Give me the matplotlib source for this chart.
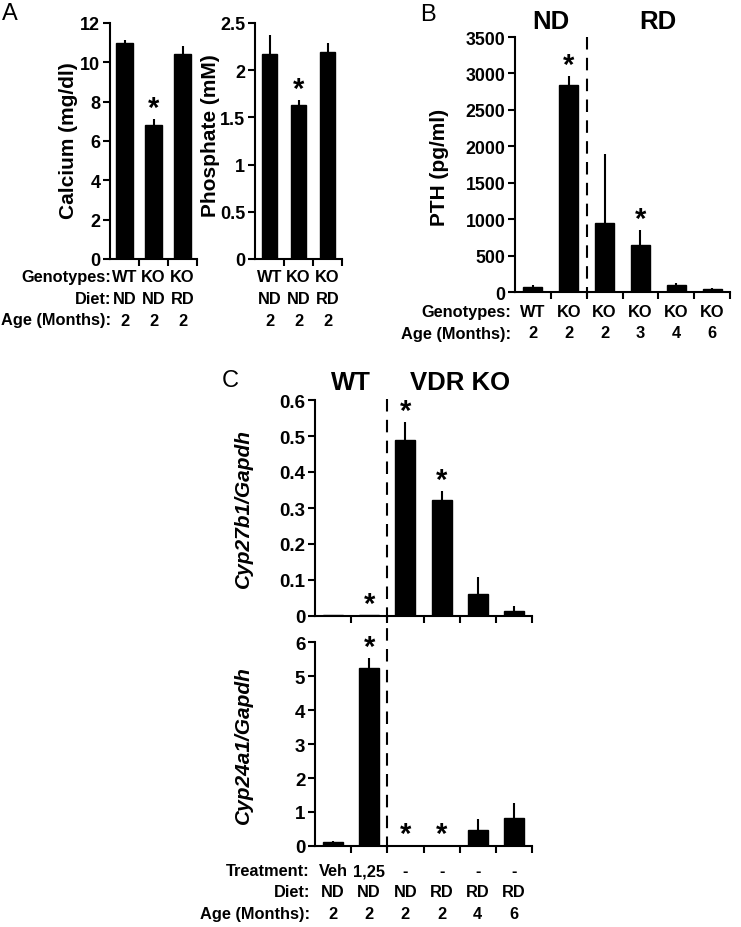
"""
Serum minerals, PTH and renal Cyp27b1 / Cyp24a1 expression (panels A-C)
"""

import matplotlib.pyplot as plt
import matplotlib.transforms as mtrans
from matplotlib.lines import Line2D

## Panel A data
a_genotypes = ["WT", "KO", "KO"]
a_diet = ["ND", "ND", "RD"]
a_age = ["2", "2", "2"]
calcium = [11.0, 6.8, 10.4]
calcium_err = [0.12, 0.3, 0.45]
calcium_sig = [False, True, False]
phosphate = [2.17, 1.63, 2.19]
phosphate_err = [0.2, 0.05, 0.1]
phosphate_sig = [False, True, False]

## Panel B data
b_genotypes = ["WT", "KO", "KO", "KO", "KO", "KO"]
b_age = ["2", "2", "2", "3", "4", "6"]
pth = [65, 2840, 950, 650, 90, 40]
pth_err = [30, 130, 940, 200, 30, 12]
pth_sig = [False, True, False, True, False, False]

## Panel C data
c_treatment = ["Veh", "1,25", "-", "-", "-", "-"]
c_diet = ["ND", "ND", "ND", "RD", "RD", "RD"]
c_age = ["2", "2", "2", "2", "4", "6"]
cyp27b1 = [0.003, 0.002, 0.49, 0.322, 0.06, 0.015]
cyp27b1_err = [0.001, 0.001, 0.048, 0.024, 0.049, 0.014]
cyp27b1_sig = [False, True, True, True, False, False]
cyp24a1 = [0.12, 5.25, 0.01, 0.01, 0.48, 0.82]
cyp24a1_err = [0.02, 0.27, 0.005, 0.005, 0.3, 0.45]
cyp24a1_sig = [False, True, True, True, False, False]

W, H = 741, 928
FONT = "Liberation Sans"


def box(left, top, right, bottom):
    return [left / W, 1 - bottom / H, (right - left) / W, (bottom - top) / H]


def fig_y(y):
    return 1 - y / H


def bar_panel(fig, rect, vals, errs, sig, ticks, tick_size, width, star_off=8):
    ax = fig.add_axes(rect)
    n = len(vals)
    xs = list(range(n))
    ax.bar(xs, vals, width=width, color="black", edgecolor="black",
           linewidth=1.0, zorder=2)
    ax.errorbar(xs, vals, yerr=[[0] * n, errs], fmt="none", ecolor="black",
                elinewidth=1.5, capsize=0, zorder=1)
    for x, v, e, s in zip(xs, vals, errs, sig):
        if s:
            ax.annotate("*", (x, v + e), xytext=(0, star_off), textcoords="offset points",
                        ha="center", va="center", fontsize=21, fontweight="bold",
                        family=FONT)
    ax.set_xlim(-0.5, n - 0.5)
    ax.set_ylim(ticks[0], ticks[-1])
    ax.set_yticks(ticks)
    ax.set_yticklabels([f"{t:g}" for t in ticks], fontsize=tick_size,
                       fontweight="bold", family=FONT)
    ax.set_xticks([i + 0.5 for i in range(n)])
    ax.set_xticklabels([])
    for sp in ["top", "right"]:
        ax.spines[sp].set_visible(False)
    for sp in ["left", "bottom"]:
        ax.spines[sp].set_linewidth(1.5)
    ax.tick_params(axis="both", direction="out", length=5, width=1.5, pad=2)
    ax.set_facecolor("none")
    return ax


def table_rows(fig, ax, rows, label_right, ys, size=11.8):
    tr = mtrans.blended_transform_factory(ax.transData, fig.transFigure)
    for (label, values), y in zip(rows, ys):
        if label:
            fig.text(label_right / W, fig_y(y), label, ha="right", va="center",
                     fontsize=size, fontweight="bold", family=FONT)
        for i, v in enumerate(values):
            ax.text(i, fig_y(y), v, transform=tr, ha="center", va="center",
                    fontsize=size, fontweight="bold", family=FONT)


def ylabel(fig, x, y, text, size, italic=False):
    fig.text(x / W, fig_y(y), text, rotation=90, ha="center", va="center",
             fontsize=size, fontweight="bold", family=FONT,
             style="italic" if italic else "normal")


def dashed(fig, ax, x, y0, y1):
    tr = mtrans.blended_transform_factory(ax.transData, fig.transFigure)
    fig.add_artist(Line2D([x, x], [fig_y(y0), fig_y(y1)], transform=tr,
                          color="black", lw=1.5, dashes=(6, 4)))


def plot_data():
    fig = plt.figure(figsize=(W / 100, H / 100), dpi=100)

    # ---- panel A
    ax1 = bar_panel(fig, box(110, 24, 197, 260), calcium, calcium_err, calcium_sig,
                    [0, 2, 4, 6, 8, 10, 12], 13, 0.58)
    ax2 = bar_panel(fig, box(255, 24, 342, 260), phosphate, phosphate_err, phosphate_sig,
                    [0, 0.5, 1, 1.5, 2, 2.5], 13, 0.5)
    ylabel(fig, 69, 141, "Calcium (mg/dl)", 15)
    ylabel(fig, 210, 136, "Phosphate (mM)", 15)
    table_rows(fig, ax1, [("Genotypes:", a_genotypes), ("Diet:", a_diet),
                          ("Age (Months):", a_age)], 111, [278, 300, 321])
    table_rows(fig, ax2, [("", a_genotypes), ("", a_diet), ("", a_age)],
               0, [278, 300, 321])
    fig.text(2 / W, fig_y(14), "A", fontsize=17, family=FONT, va="center")

    # ---- panel B
    ax3 = bar_panel(fig, box(515, 38, 730, 293), pth, pth_err, pth_sig,
                    list(range(0, 3501, 500)), 12.8, 0.53)
    ylabel(fig, 439, 167, "PTH (pg/ml)", 15)
    dashed(fig, ax3, 1.5, 38, 298)
    tr = mtrans.blended_transform_factory(ax3.transData, fig.transFigure)
    ax3.text(0.5, fig_y(22), "ND", transform=tr, ha="center", va="center",
             fontsize=18.5, fontweight="bold", family=FONT)
    ax3.text(3.5, fig_y(22), "RD", transform=tr, ha="center", va="center",
             fontsize=18.5, fontweight="bold", family=FONT)
    table_rows(fig, ax3, [("Genotypes:", b_genotypes), ("Age (Months):", b_age)],
               511, [313, 334])
    fig.text(420 / W, fig_y(15), "B", fontsize=17, family=FONT, va="center")

    # ---- panel C
    ax4 = bar_panel(fig, box(315, 401, 532, 617), cyp27b1, cyp27b1_err, cyp27b1_sig,
                    [0, 0.1, 0.2, 0.3, 0.4, 0.5, 0.6], 13.5, 0.55)
    ax5 = bar_panel(fig, box(315, 643, 532, 847), cyp24a1, cyp24a1_err, cyp24a1_sig,
                    [0, 1, 2, 3, 4, 5, 6], 13.5, 0.55)
    ylabel(fig, 243, 508, "Cyp27b1/Gapdh", 15, italic=True)
    ylabel(fig, 243, 745, "Cyp24a1/Gapdh", 15, italic=True)
    dashed(fig, ax4, 1.5, 400, 855)
    tr = mtrans.blended_transform_factory(ax4.transData, fig.transFigure)
    ax4.text(0.5, fig_y(383), "WT", transform=tr, ha="center", va="center",
             fontsize=18.5, fontweight="bold", family=FONT)
    ax4.text(3.5, fig_y(383), "VDR KO", transform=tr, ha="center", va="center",
             fontsize=18.5, fontweight="bold", family=FONT)
    table_rows(fig, ax5, [("Treatment:", c_treatment), ("Diet:", c_diet),
                          ("Age (Months):", c_age)], 310, [872, 893, 915])
    fig.text(222 / W, fig_y(381), "C", fontsize=17, family=FONT, va="center")

    fig.savefig("out.png", dpi=100)
    print("saved: out.png")


if __name__ == "__main__":
    plot_data()
